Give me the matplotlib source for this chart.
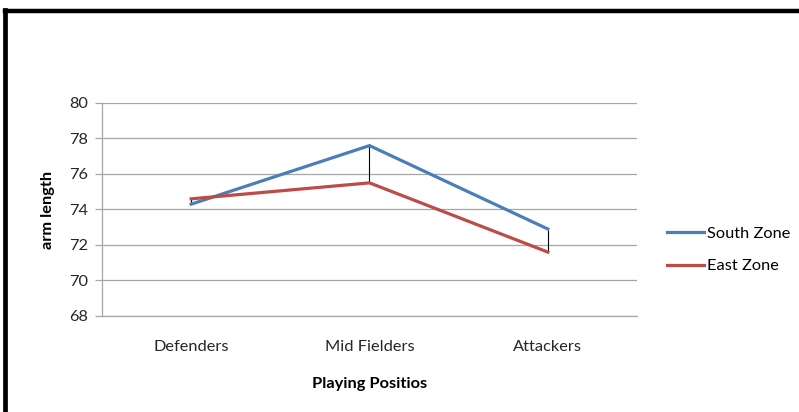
import matplotlib.pyplot as plt
from matplotlib.lines import Line2D
import numpy as np

positions = ['Defenders', 'Mid Fielders', 'Attackers']
south_zone = [74.3, 77.6, 72.9]
east_zone = [74.6, 75.5, 71.6]

plt.rcParams['font.family'] = ['Lato', 'DejaVu Sans']

W, H = 799, 412
fig = plt.figure(figsize=(W / 100, H / 100), dpi=100)

# chart frame: heavy black edge on top and left
fig.add_artist(Line2D([5 / W, 5 / W], [0, 1 - 10 / H], transform=fig.transFigure,
                      color='black', lw=3.4, solid_capstyle='projecting'))
fig.add_artist(Line2D([5 / W, 1], [1 - 10.5 / H, 1 - 10.5 / H], transform=fig.transFigure,
                      color='black', lw=3.2, solid_capstyle='projecting'))

ax = fig.add_axes([102 / W, (H - 316) / H, (637 - 102) / W, (316 - 103) / H])

x = np.arange(len(positions))
blue = '#4a7ebb'
red = '#be4b48'

# high-low lines between the two zones
ax.vlines(x, np.minimum(south_zone, east_zone), np.maximum(south_zone, east_zone),
          color='black', lw=0.8, zorder=2)
ax.plot(x, south_zone, color=blue, lw=2.3, label='South Zone', zorder=3,
        solid_joinstyle='miter')
ax.plot(x, east_zone, color=red, lw=2.3, label='East Zone', zorder=3,
        solid_joinstyle='miter')

ax.set_xlim(-0.5, len(positions) - 0.5)
ax.set_ylim(68, 80)
ax.set_yticks(range(68, 81, 2))
ax.set_xticks(x)
ax.set_xticklabels(positions)
ax.yaxis.grid(True, color='#a6a6a6', lw=0.9)
ax.set_axisbelow(True)

for side in ['top', 'right']:
    ax.spines[side].set_visible(False)
for side in ['left', 'bottom']:
    ax.spines[side].set_color('#a6a6a6')
    ax.spines[side].set_linewidth(0.9)

fs = 11.8
ax.tick_params(axis='y', length=5, width=0.9, color='#a6a6a6', pad=5,
               labelsize=fs, labelcolor='#262626')
ax.tick_params(axis='x', length=0, pad=17, labelsize=fs, labelcolor='#262626')

ax.set_xlabel('Playing Positios', fontsize=fs, fontweight='bold', labelpad=17)
ax.set_ylabel('arm length', fontsize=fs, fontweight='bold', labelpad=10)

ax.legend(loc='center left', bbox_to_anchor=(660 / W, (H - 250) / H),
          bbox_transform=fig.transFigure, frameon=False, fontsize=fs,
          handlelength=2.3, handletextpad=0.15, labelspacing=1.1,
          borderaxespad=0)

fig.savefig('out.png', dpi=100, facecolor='white')
